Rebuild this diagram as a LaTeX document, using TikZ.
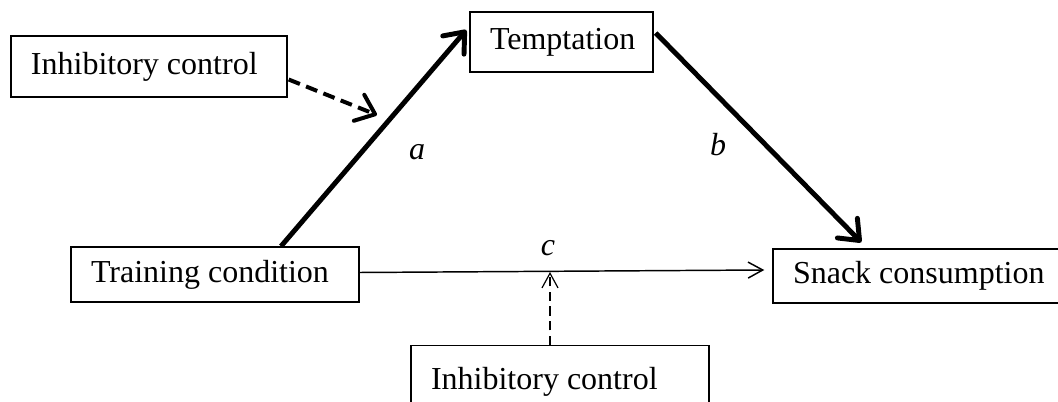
\documentclass[tikz,border=0pt]{standalone}
\usepackage{fontspec}
\setmainfont{Liberation Serif}
\usetikzlibrary{arrows.meta,calc}
\begin{document}
\begin{tikzpicture}[x=0.75pt,y=-0.75pt,
  box/.style={draw=black,line width=1.1pt,rectangle,inner xsep=15pt,inner ysep=0pt,
    font=\fontsize{24}{28}\selectfont},
  lbl/.style={font=\fontsize{24}{28}\selectfont\itshape,inner sep=0pt},
  thickarrow/.style={line width=3.7pt,-{Straight Barb[length=13pt,width=21pt,line cap=round,line join=round]}},
  thickdash/.style={line width=3pt,dash pattern=on 9pt off 5pt,-{Straight Barb[length=13pt,width=21pt,line cap=round,line join=round]}},
  thinarrow/.style={line width=1.1pt,-{Straight Barb[length=11pt,width=12pt]}},
  thindash/.style={line width=0.9pt,dash pattern=on 7pt off 4pt,-{Straight Barb[length=11pt,width=12pt]}}
]
\useasboundingbox (0,0) rectangle (1058,402);
\clip (0,0) rectangle (1058,402);
\node[box,minimum height=45.75pt] (ic1) at (149,66.5) {\makebox[177pt][l]{Inhibitory control}};
\node[box,minimum height=45pt] (tem) at (561.5,42) {\makebox[107.25pt][l]{Temptation}};
\node[box,minimum height=41.25pt] (tc) at (215,274.5) {\makebox[186pt][l]{Training condition}};
\node[box,minimum height=40.5pt] (sc) at (919,276) {\makebox[189pt][l]{Snack consumption}};
\node[box,minimum height=54pt,anchor=north] (ic2) at (560,345) {\makebox[193.5pt][l]{Inhibitory control}};
\coordinate (cmid) at (550,272);
\coordinate (amod) at (377,115);
\draw[thickarrow] ($(tc.north)+(66,0)$) -- ($(tem.west)+(-3,-12)$);
\draw[thickarrow] ($(tem.east)+(2,-9)$) -- ($(sc.north west)+(89,-6)$);
\draw[thickdash] ($(ic1.east)+(1,13)$) -- (amod);
\draw[thinarrow] ($(tc.east)+(0,-2)$) -- ($(sc.west)+(-8,-6)$);
\draw[thindash] ($(ic2.north)+(-10,0)$) -- (cmid);
\node[lbl] (la) at (417,152) {a};
\node[lbl] (lb) at (718,145) {b};
\node[lbl] (lc) at (548,248) {c};
\end{tikzpicture}
\end{document}
